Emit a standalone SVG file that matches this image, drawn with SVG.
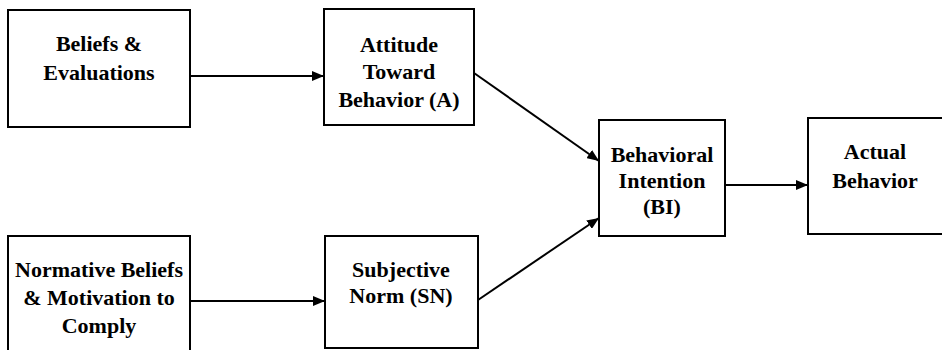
<svg xmlns="http://www.w3.org/2000/svg" width="942" height="350" viewBox="0 0 942 350">
<style>
.box{fill:#fff;stroke:#000;stroke-width:2}
.t{font-family:"Liberation Serif","Times New Roman",serif;font-size:22px;font-weight:bold;fill:#000;text-anchor:middle}
.c{stroke:#000;stroke-width:2;fill:none}
</style>
<defs>
<marker id="ah" viewBox="0 0 12 10" refX="12" refY="5" markerWidth="12" markerHeight="10" markerUnits="userSpaceOnUse" orient="auto">
<path d="M0,0 L12,5 L0,10 Z" fill="#000"/>
</marker>
</defs>
<rect width="942" height="350" fill="#fff"/>
<g id="beliefs">
<rect class="box" x="8" y="10" width="182" height="117"/>
<text class="t" x="99" y="51">Beliefs &amp;</text>
<text class="t" x="99" y="80">Evaluations</text>
</g>
<g id="attitude">
<rect class="box" x="324" y="9" width="150" height="116"/>
<text class="t" x="399" y="52">Attitude</text>
<text class="t" x="399" y="79">Toward</text>
<text class="t" x="399" y="107">Behavior (A)</text>
</g>
<g id="intention">
<rect class="box" x="599" y="120" width="126" height="116"/>
<text class="t" x="662" y="162">Behavioral</text>
<text class="t" x="662" y="188">Intention</text>
<text class="t" x="662" y="214">(BI)</text>
</g>
<g id="actual">
<rect class="box" x="808" y="118" width="140" height="116"/>
<text class="t" x="875" y="159">Actual</text>
<text class="t" x="875" y="188">Behavior</text>
</g>
<g id="normative">
<rect class="box" x="8" y="236" width="182" height="120"/>
<text class="t" x="99" y="277">Normative Beliefs</text>
<text class="t" x="99" y="305">&amp; Motivation to</text>
<text class="t" x="99" y="333">Comply</text>
</g>
<g id="subjective">
<rect class="box" x="325" y="236" width="153" height="112"/>
<text class="t" x="401" y="277">Subjective</text>
<text class="t" x="401" y="303">Norm (SN)</text>
</g>
<g id="connectors">
<line class="c" x1="190" y1="76" x2="324" y2="76" marker-end="url(#ah)"/>
<line class="c" x1="190" y1="301" x2="325" y2="301" marker-end="url(#ah)"/>
<line class="c" x1="474" y1="73" x2="599" y2="161" marker-end="url(#ah)"/>
<line class="c" x1="478" y1="300" x2="599" y2="218" marker-end="url(#ah)"/>
<line class="c" x1="725" y1="185" x2="808" y2="185" marker-end="url(#ah)"/>
</g>
</svg>
